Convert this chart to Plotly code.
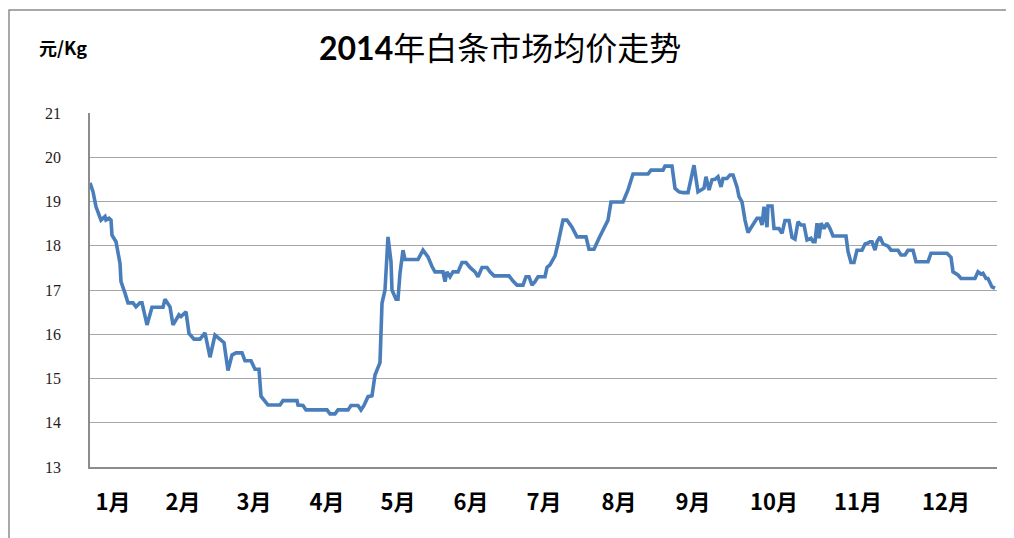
import plotly.graph_objects as go

# time index (sample position along the year) and average price, yuan/kg
t = [0, 3, 6, 11, 15, 16, 19, 21, 22, 26, 30, 31, 35, 38, 43, 46, 50, 52, 57, 62,
     73, 75, 80, 83, 89, 91, 96, 99, 104, 110, 115, 120, 125, 129, 134, 138, 142, 146, 152, 155,
     161, 165, 169, 171, 175, 178, 190, 193, 207, 208, 213, 216, 237, 240, 245, 248, 258, 261, 268, 271,
     274, 278, 282, 285, 290, 292, 295, 298, 301, 302, 306, 308, 310, 313, 315, 328, 333, 338, 342, 345,
     353, 355, 357, 360, 363, 368, 372, 376, 380, 385, 388, 392, 397, 400, 404, 419, 423, 427, 433, 436,
     439, 442, 445, 448, 455, 457, 460, 465, 468, 473, 477, 482, 487, 496, 499, 504, 509, 516, 518, 521,
     533, 538, 543, 558, 561, 573, 575, 582, 585, 589, 593, 598, 601, 604, 608, 612, 614, 616, 619, 622,
     625, 628, 631, 633, 637, 640, 643, 647, 649, 652, 655, 658, 662, 667, 670, 672, 674, 677, 678, 682,
     684, 689, 692, 695, 699, 702, 705, 708, 711, 714, 717, 721, 723, 725, 727, 729, 731, 734, 737, 740,
     743, 756, 758, 761, 764, 767, 772, 775, 778, 780, 782, 785, 787, 790, 793, 798, 801, 808, 811, 815,
     818, 823, 826, 838, 841, 857, 861, 863, 868, 871, 885, 888, 891, 893, 896, 898, 902, 905]
price = [19.42, 19.22, 18.88, 18.58, 18.66, 18.58, 18.62, 18.58, 18.24, 18.09, 17.60, 17.19, 16.93, 16.71, 16.71, 16.62, 16.71, 16.71, 16.21, 16.61,
         16.61, 16.79, 16.62, 16.21, 16.44, 16.40, 16.51, 16.02, 15.89, 15.89, 16.03, 15.48, 15.98, 15.91, 15.81, 15.18, 15.53, 15.58, 15.58, 15.40,
         15.40, 15.21, 15.21, 14.60, 14.48, 14.40, 14.40, 14.50, 14.50, 14.40, 14.39, 14.29, 14.29, 14.20, 14.20, 14.29, 14.29, 14.39, 14.39, 14.29,
         14.39, 14.59, 14.61, 15.08, 15.36, 16.70, 17.00, 18.20, 17.64, 17.00, 16.79, 16.79, 17.38, 17.90, 17.69, 17.69, 17.90, 17.75, 17.53, 17.41,
         17.41, 17.19, 17.41, 17.30, 17.41, 17.41, 17.62, 17.62, 17.51, 17.41, 17.30, 17.51, 17.51, 17.41, 17.32, 17.32, 17.20, 17.11, 17.11, 17.30,
         17.30, 17.11, 17.19, 17.30, 17.30, 17.51, 17.57, 17.77, 18.05, 18.58, 18.58, 18.42, 18.20, 18.20, 17.92, 17.92, 18.17, 18.47, 18.58, 18.99,
         18.99, 19.26, 19.62, 19.62, 19.71, 19.71, 19.80, 19.80, 19.30, 19.22, 19.20, 19.20, 19.56, 19.82, 19.22, 19.26, 19.30, 19.56, 19.26, 19.49,
         19.50, 19.56, 19.33, 19.52, 19.52, 19.60, 19.60, 19.33, 19.11, 18.99, 18.58, 18.30, 18.45, 18.62, 18.62, 18.47, 18.88, 18.42, 18.90, 18.90,
         18.39, 18.39, 18.28, 18.57, 18.57, 18.19, 18.15, 18.54, 18.47, 18.47, 18.13, 18.17, 18.09, 18.09, 18.51, 18.17, 18.51, 18.39, 18.51, 18.39,
         18.22, 18.22, 17.87, 17.62, 17.62, 17.90, 17.90, 18.04, 18.06, 18.09, 18.09, 17.90, 18.09, 18.20, 18.04, 17.99, 17.90, 17.90, 17.79, 17.79,
         17.90, 17.90, 17.64, 17.64, 17.83, 17.83, 17.74, 17.41, 17.34, 17.26, 17.26, 17.41, 17.36, 17.38, 17.26, 17.26, 17.07, 17.04]

month_pos = [23, 93, 164, 237, 308, 381, 454, 529, 603, 684, 768, 856]
month_labels = ["1月", "2月", "3月", "4月", "5月", "6月", "7月", "8月", "9月", "10月", "11月", "12月"]
y_ticks = [13, 14, 15, 16, 17, 18, 19, 20, 21]

title_text = "<b>2014</b>年白条市场均价走势"
unit_text = "<b>元/Kg</b>"

fig = go.Figure()
fig.add_trace(go.Scatter(
    x=t, y=price, mode="lines",
    line=dict(color="#4A7EBB", width=3.6),
    hoverinfo="skip", showlegend=False,
))

fig.update_layout(
    width=1006, height=530,
    margin=dict(l=82, r=17, t=105, b=71, pad=0),
    paper_bgcolor="white", plot_bgcolor="white",
    showlegend=False,
    xaxis=dict(
        range=[0, 907], tickmode="array", tickvals=month_pos, ticktext=month_labels,
        showgrid=False, zeroline=False, showline=True, linecolor="#8C8C8C", linewidth=1.5,
        ticks="", ticklabelstandoff=15,
        tickfont=dict(family="Liberation Sans Narrow, Noto Sans CJK SC", size=22, color="black", weight="bold"),
    ),
    yaxis=dict(
        range=[13, 21], tickmode="array", tickvals=y_ticks,
        showgrid=True, gridcolor="#A6A6A6", gridwidth=1.3,
        zeroline=False, showline=True, linecolor="#8C8C8C", linewidth=1.5,
        ticks="", ticklabelstandoff=24,
        tickfont=dict(family="Liberation Serif, Times New Roman, serif", size=16, color="#2a1a1a"),
    ),
    annotations=[
        dict(text=title_text, xref="paper", yref="paper", x=0.452, y=1.186,
             xanchor="center", yanchor="middle", showarrow=False,
             font=dict(family="Lato, Noto Sans CJK SC", size=32, color="black")),
        dict(text=unit_text, xref="paper", yref="paper", x=-0.058, y=1.186,
             xanchor="left", yanchor="middle", showarrow=False,
             font=dict(family="Liberation Sans Narrow, Noto Sans CJK SC", size=18, color="black")),
    ],
    shapes=[
        dict(type="rect", xref="paper", yref="paper", x0=-0.0893, x1=1.016, y0=-0.25, y1=1.291,
             line=dict(color="#8C8C8C", width=1.5), fillcolor="rgba(0,0,0,0)", layer="below"),
    ],
)

fig.write_html("out.html")
